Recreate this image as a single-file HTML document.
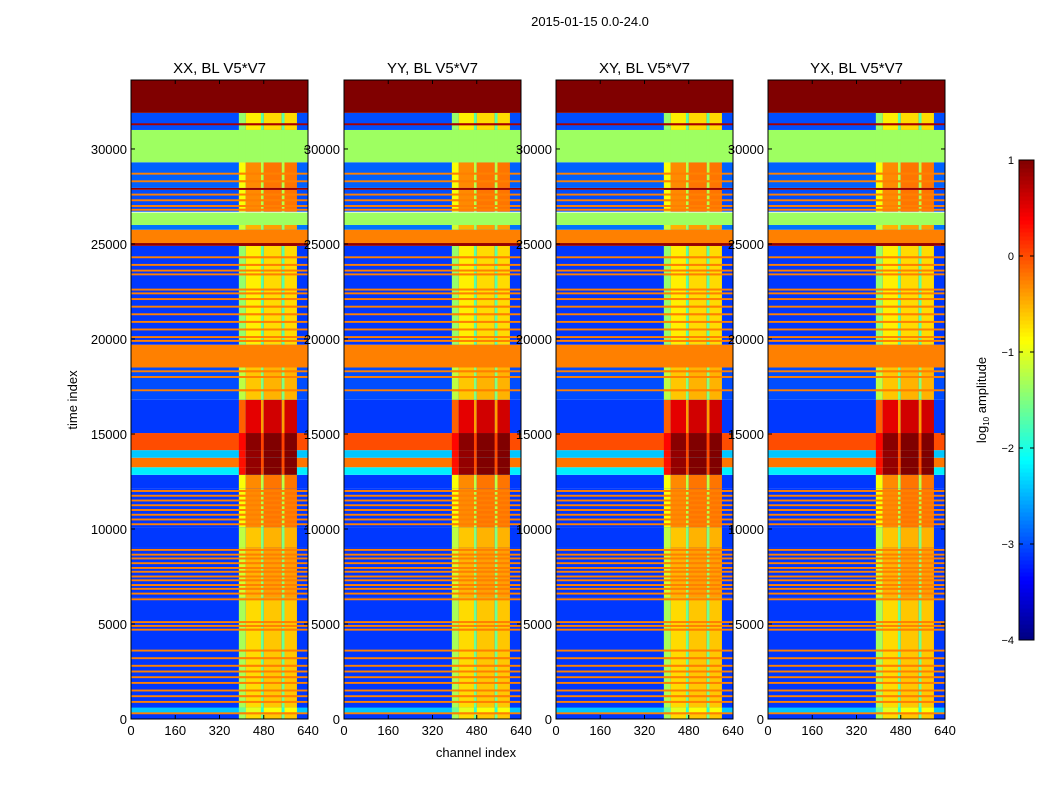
<!DOCTYPE html>
<html><head><meta charset="utf-8">
<style>
body{margin:0;background:#fff;font-family:"Liberation Sans",sans-serif;}
svg text{font-family:"Liberation Sans",sans-serif;fill:#000;}
</style></head>
<body>
<svg id="fig" width="1050" height="800" xmlns="http://www.w3.org/2000/svg">
<rect width="1050" height="800" fill="#fff"/>
<text x="590" y="26" font-size="13" text-anchor="middle">2015-01-15 0.0-24.0</text>
<text x="476" y="757" font-size="13" text-anchor="middle">channel index</text>
<text x="77" y="400" font-size="13" text-anchor="middle" transform="rotate(-90 77 400)">time index</text>
<g id="panels"></g>
<g id="cbar"></g>
</svg>
<script>
// ---- data ----
const panelTitles = ["XX, BL V5*V7","YY, BL V5*V7","XY, BL V5*V7","YX, BL V5*V7"];
const xTicks = [0,160,320,480,640];
const yTicks = [0,5000,10000,15000,20000,25000,30000];
const cbTicks = [1,0,-1,-2,-3,-4];
// time bands: start, end, background log-amplitude, hot-channel log-amplitude
const bandStart = [0,300,6400,9050,10100,12150,12850,13250,13750,14150,15050,16800,18500,19700,24900,25050,25750,26000,26700,27850,27950,29300,31000,31250,31900];
const bandEnd   = [6400,600,9050,10100,12150,12850,13250,13750,14150,15050,16800,18500,19700,24900,25050,25750,26000,26650,27850,27950,29300,31000,31900,31350,33630];
const bandBg    = [-3.1,-2.4,-3.1,-3.1,-3.1,-3.1,-2.2,-0.2,-2.4,0.0,-3.1,-3.0,-0.25,-3.1,0.9,-0.25,-2.8,-1.35,-3.0,0.9,-2.9,-1.35,-3.0,0.8,1.0];
const bandHot   = [-0.7,-1.0,-0.5,-0.6,-0.3,-0.3,0.9,0.9,0.9,0.95,0.5,-0.6,-0.25,-0.8,0.9,-0.25,-0.5,-1.35,-0.3,0.9,-0.3,-1.35,-0.8,0.8,1.0];
// thin full-width lines
const lineTimes = [300,900,1200,1500,1900,2200,2500,2800,3200,3600,4700,4900,5100,6300,6600,6850,7050,7300,7500,7750,7950,8200,8450,8650,8900,10250,10500,10750,11000,11250,11500,11750,12000,17300,18000,18300,19900,20100,20500,20900,21300,21700,22100,22400,22600,23400,23600,23900,24300,26800,27000,27300,27600,28300,28700];
const lineVals  = lineTimes.map(()=>-0.25);
// hot channel columns: edges and offsets
const colStart  = [390,415,470,480,545,555];
const colEnd    = [415,470,480,545,555,600];
const colOffset = [-0.6,0,-0.9,0.1,-0.9,0.1];

const panelX = [131,344,556,768], panelW = 177;
const yTop = 80, yBot = 719, tMax = 33630;

function jet(v){
  let f = Math.max(0,Math.min(1,(v+4)/5));
  const c = x=>Math.round(255*Math.max(0,Math.min(1,1.5-Math.abs(x))));
  return `rgb(${c(4*f-3)},${c(4*f-2)},${c(4*f-1)})`;
}
const NS = "http://www.w3.org/2000/svg";
function mk(tag, attrs, parent){
  const e = document.createElementNS(NS, tag);
  for (const k in attrs) e.setAttribute(k, attrs[k]);
  parent.appendChild(e); return e;
}
const panels = document.getElementById('panels');
panelX.forEach((px, pi)=>{
  const xs = c => px + c/640*panelW;
  const ys = t => yBot - t/tMax*(yBot-yTop);
  const g = mk('g',{},panels);
  
  
  function band(t0,t1,bg,hot){
    const y0 = ys(t1), h = ys(t0)-ys(t1);
    const r = mk('rect',{x:xs(0),y:y0,width:panelW,height:h,fill:jet(bg)},g);
    
    
    for (let k=0;k<colStart.length;k++){
      const v = (hot===bg) ? hot : hot + colOffset[k];
      const c = mk('rect',{x:xs(colStart[k]),y:y0,width:xs(colEnd[k])-xs(colStart[k]),height:h,fill:jet(v)},g);
      
      
    }
  }
  for (let i=0;i<bandStart.length;i++) band(bandStart[i],bandEnd[i],bandBg[i],bandHot[i]);
  for (let i=0;i<lineTimes.length;i++) band(lineTimes[i]-50,lineTimes[i]+50,lineVals[i],lineVals[i]);
  const fr = mk('rect',{x:px,y:yTop,width:panelW,height:yBot-yTop,fill:'none',stroke:'#000','stroke-width':1},g);
  
  
  xTicks.forEach(t=>{
    const x = xs(t);
    mk('line',{x1:x,x2:x,y1:yBot,y2:yBot-4,stroke:'#000'},g);
    mk('line',{x1:x,x2:x,y1:yTop,y2:yTop+4,stroke:'#000'},g);
    const tx = mk('text',{x:x,y:yBot+16,'font-size':13,'text-anchor':'middle'},g);
    tx.textContent = t;
    
    
  });
  yTicks.forEach(t=>{
    const y = ys(t);
    mk('line',{x1:px,x2:px+4,y1:y,y2:y,stroke:'#000'},g);
    mk('line',{x1:px+panelW,x2:px+panelW-4,y1:y,y2:y,stroke:'#000'},g);
    const tx = mk('text',{x:px-4,y:y+5,'font-size':13,'text-anchor':'end'},g);
    tx.textContent = t;
    
    
  });
  const tt = mk('text',{x:px+panelW/2,y:73,'font-size':15,'text-anchor':'middle'},g);
  tt.textContent = panelTitles[pi];
  
  
});
// colorbar
const cb = document.getElementById('cbar');


const cbX = 1019, cbW = 15, cbT = 160, cbB = 640;
const cys = v => cbB - (v+4)/5*(cbB-cbT);
for (let i=0;i<120;i++){
  const v0 = -4 + 5*i/120, v1 = -4 + 5*(i+1)/120;
  mk('rect',{x:cbX,y:cys(v1),width:cbW,height:cys(v0)-cys(v1)+0.5,fill:jet((v0+v1)/2)},cb);
}
mk('rect',{x:cbX,y:cbT,width:cbW,height:cbB-cbT,fill:'none',stroke:'#000'},cb);
cbTicks.forEach(v=>{
  const y = cys(v);
  mk('line',{x1:cbX,x2:cbX+4,y1:y,y2:y,stroke:'#000'},cb);
  mk('line',{x1:cbX+cbW,x2:cbX+cbW-4,y1:y,y2:y,stroke:'#000'},cb);
  const t = mk('text',{x:1014,y:y+4,'font-size':11,'text-anchor':'end'},cb);
  t.textContent = v<0 ? '\u2212'+(-v) : v;
  
  
});
const cl = mk('text',{x:986,y:400,'font-size':13,'text-anchor':'middle',transform:'rotate(-90 986 400)'},cb);
cl.innerHTML = 'log<tspan font-size="8" dy="3">10</tspan><tspan dy="-3"> amplitude</tspan>';


</script>
</body></html>
